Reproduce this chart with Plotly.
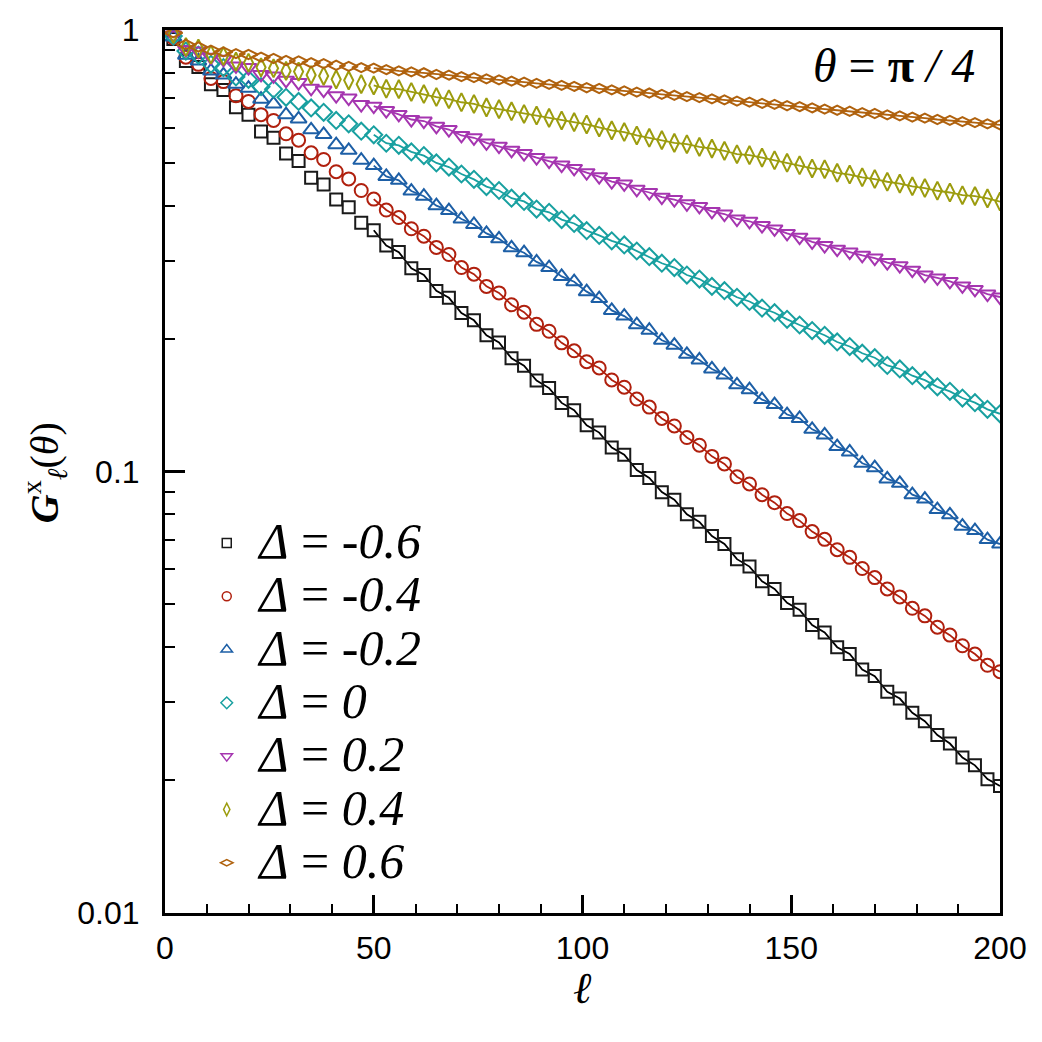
import plotly.graph_objects as go

# x positions (ell) of the data points
ell = list(range(2, 201, 3))

# G values, one list per Delta
g_m06 = [0.954, 0.851, 0.825, 0.754, 0.731, 0.668, 0.643, 0.589, 0.570, 0.525, 0.505, 0.463, 0.447, 0.413, 0.397, 0.366,
         0.352, 0.325, 0.314, 0.2885, 0.2786, 0.2565, 0.2474, 0.2286, 0.2200, 0.2035, 0.1960, 0.1804, 0.1736, 0.1607,
         0.1545, 0.1430, 0.1377, 0.1272, 0.1225, 0.1133, 0.1091, 0.1008, 0.0967, 0.0898, 0.0863, 0.0800, 0.0769, 0.0714,
         0.0685, 0.0633, 0.0609, 0.0564, 0.0542, 0.0504, 0.0486, 0.0449, 0.0432, 0.0400, 0.0386, 0.0356, 0.0344, 0.0317,
         0.0306, 0.0284, 0.0272, 0.0253, 0.0242, 0.0225, 0.0216, 0.0201, 0.0194]
g_m04 = [0.959, 0.868, 0.836, 0.777, 0.764, 0.710, 0.689, 0.643, 0.624, 0.582, 0.563, 0.527, 0.509, 0.4775, 0.460, 0.433,
         0.414, 0.391, 0.376, 0.3547, 0.3412, 0.3218, 0.3101, 0.2897, 0.2799, 0.2626, 0.2538, 0.2386, 0.2296, 0.2154,
         0.2078, 0.1956, 0.1877, 0.1773, 0.1716, 0.1612, 0.1552, 0.1459, 0.1399, 0.1319, 0.1268, 0.1194, 0.1147, 0.1082,
         0.1040, 0.0973, 0.0937, 0.0886, 0.0850, 0.0803, 0.0774, 0.0731, 0.0702, 0.0665, 0.0639, 0.0603, 0.0575, 0.0542,
         0.0520, 0.0490, 0.0471, 0.0444, 0.0426, 0.0403, 0.0386, 0.0364, 0.0352]
g_m02 = [0.9645, 0.877, 0.851, 0.808, 0.791, 0.754, 0.738, 0.697, 0.680, 0.643, 0.629, 0.594, 0.580, 0.550, 0.534, 0.507,
         0.493, 0.466, 0.4565, 0.4318, 0.4203, 0.4001, 0.3899, 0.3732, 0.3626, 0.3461, 0.3365, 0.3211, 0.3130, 0.2983,
         0.2897, 0.2766, 0.2691, 0.2555, 0.2464, 0.2317, 0.2249, 0.2151, 0.2089, 0.1983, 0.1933, 0.1842, 0.1789, 0.1707,
         0.1655, 0.1572, 0.1532, 0.1455, 0.1418, 0.1346, 0.1319, 0.1246, 0.1210, 0.1139, 0.1107, 0.1044, 0.1020, 0.0962,
         0.0940, 0.0886, 0.0866, 0.0820, 0.0798, 0.0752, 0.0735, 0.0701, 0.0685]
g_0 = [0.969, 0.896, 0.877, 0.836, 0.822, 0.783, 0.773, 0.744, 0.7345, 0.704, 0.689, 0.666, 0.651, 0.624, 0.613, 0.590,
       0.579, 0.554, 0.548, 0.5295, 0.5194, 0.4998, 0.4893, 0.4719, 0.4589, 0.4419, 0.4330, 0.4160, 0.4090, 0.3930,
       0.3864, 0.3721, 0.3645, 0.3512, 0.3425, 0.3330, 0.3260, 0.3158, 0.3066, 0.2963, 0.2897, 0.2786, 0.2728, 0.2626,
       0.2568, 0.2481, 0.2427, 0.2344, 0.2289, 0.2211, 0.2147, 0.2086, 0.2035, 0.1965, 0.1919, 0.1853, 0.1810, 0.1739,
       0.1707, 0.1648, 0.1610, 0.1555, 0.1519, 0.1467, 0.1432, 0.1383, 0.1351]
g_p02 = [0.974, 0.903, 0.896, 0.868, 0.858, 0.829, 0.822, 0.793, 0.787, 0.769, 0.760, 0.738, 0.731, 0.710, 0.701, 0.678,
         0.672, 0.657, 0.644, 0.627, 0.622, 0.605, 0.595, 0.577, 0.570, 0.555, 0.5455, 0.534, 0.525, 0.514,
         0.505, 0.4943, 0.4858, 0.4751, 0.4654, 0.4535, 0.4482, 0.4358, 0.4285, 0.4181, 0.413, 0.4041, 0.3985, 0.3883,
         0.3830, 0.3732, 0.3688, 0.3607, 0.3544, 0.3461, 0.3395, 0.3311, 0.3250, 0.3189, 0.314, 0.3087, 0.3044, 0.2973,
         0.2925, 0.2857, 0.2786, 0.2745, 0.2694, 0.2632, 0.2584, 0.2523, 0.2484]
g_p04 = [0.980, 0.915, 0.908, 0.880, 0.873, 0.848, 0.843, 0.823, 0.819, 0.808, 0.805, 0.791, 0.787, 0.773, 0.769, 0.754,
         0.749, 0.736, 0.7345, 0.724, 0.716, 0.705, 0.697, 0.686, 0.680, 0.668, 0.662, 0.6545, 0.6455, 0.640,
         0.6323, 0.624, 0.6184, 0.611, 0.6017, 0.5925, 0.5873, 0.577, 0.570, 0.563, 0.555, 0.5512, 0.5435, 0.5387,
         0.5324, 0.5232, 0.5206, 0.514, 0.507, 0.5003, 0.4939, 0.4858, 0.4838, 0.4748, 0.4705, 0.4639, 0.4597, 0.4532,
         0.4489, 0.4426, 0.4386, 0.4324, 0.4285, 0.4225, 0.4205, 0.4155, 0.4087]
g_p06 = [0.985, 0.927, 0.915, 0.900, 0.892, 0.884, 0.880, 0.868, 0.862, 0.853, 0.851, 0.843, 0.839, 0.832, 0.827, 0.822,
         0.820, 0.813, 0.808, 0.804, 0.800, 0.793, 0.790, 0.784, 0.780, 0.775, 0.771, 0.766, 0.762, 0.757,
         0.753, 0.749, 0.745, 0.740, 0.737, 0.732, 0.728, 0.7235, 0.7198, 0.7149, 0.7114, 0.7066, 0.7029, 0.6982,
         0.6948, 0.690, 0.6864, 0.6818, 0.6783, 0.6737, 0.6703, 0.666, 0.662, 0.658, 0.6545, 0.650, 0.6469, 0.6425,
         0.6392, 0.6348, 0.6316, 0.627, 0.6242, 0.620, 0.6168, 0.6127, 0.6096]

labels = ["-0.6", "-0.4", "-0.2", "0", "0.2", "0.4", "0.6"]
series = [g_m06, g_m04, g_m02, g_0, g_p02, g_p04, g_p06]
colors = ["#1a1a1a", "#b0200e", "#1d5fa6", "#18a0a0", "#a535b0", "#9c9c0e", "#b0620e"]
line_colors = ["#000000", "#b0200e", "#1d5fa6", "#18a0a0", "#a535b0", "#9c9c0e", "#b0620e"]
symbols = ["square-open", "circle-open", "triangle-up-open", "diamond-open",
           "triangle-down-open", "diamond-tall-open", "diamond-wide-open"]
sizes = [12, 13, 14, 13, 14, 13, 13]
legend_sizes = [9, 9, 10, 9, 10, 9, 9]
fit_start = 50  # lines are drawn from ell = 50 on

fig = go.Figure()
for lab, ys, c, lc, sym, sz in zip(labels, series, colors, line_colors, symbols, sizes):
    xl = [x for x in ell if x >= fit_start]
    yl = [y for x, y in zip(ell, ys) if x >= fit_start]
    fig.add_trace(go.Scatter(x=xl, y=yl, mode="lines", line=dict(color=lc, width=1.8),
                             showlegend=False, hoverinfo="skip"))
    fig.add_trace(go.Scatter(x=ell, y=ys, mode="markers",
                             marker=dict(symbol=sym, size=sz, color=c, line=dict(width=2, color=c)),
                             showlegend=False))
# legend entries (small markers as in the original)
for lab, c, sym, ls in zip(labels, colors, symbols, legend_sizes):
    fig.add_trace(go.Scatter(x=[None], y=[None], mode="markers",
                             marker=dict(symbol=sym, size=ls, color=c, line=dict(width=1.5, color=c)),
                             name='<span style="font-size:50px">\u00a0<i>Δ</i> = <i>' + lab + '</i></span>'))

tick_font = dict(family="Liberation Sans, Arial, sans-serif", size=32, color="black")
fig.update_xaxes(range=[0, 200], tickvals=[0, 50, 100, 150, 200], ticks="inside", ticklen=18, tickwidth=3,
                 tickcolor="black", showline=True, linewidth=3, linecolor="black", mirror=True,
                 showgrid=False, zeroline=False, tickfont=tick_font, ticklabelstandoff=5,
                 minor=dict(ticks="inside", ticklen=9, tickwidth=2, tickcolor="black", tick0=0, dtick=10,
                            showgrid=False))
fig.update_yaxes(type="log", range=[-2, 0], tickvals=[0.01, 0.1, 1], ticktext=["0.01", "0.1", "1"],
                 ticks="inside", ticklen=20, tickwidth=3, tickcolor="black", showline=True, linewidth=3,
                 linecolor="black", mirror=True, showgrid=False, zeroline=False, tickfont=tick_font,
                 ticklabelstandoff=16,
                 minor=dict(tickmode="array",
                            tickvals=[0.02, 0.03, 0.04, 0.05, 0.06, 0.07, 0.08, 0.09,
                                      0.2, 0.3, 0.4, 0.5, 0.6, 0.7, 0.8, 0.9],
                            ticks="inside", ticklen=10, tickwidth=2, tickcolor="black", showgrid=False))

serif = "Liberation Serif, Times New Roman, serif"
fig.update_layout(
    width=1042, height=1042,
    margin=dict(l=165, r=42, t=21, b=129),
    plot_bgcolor="white", paper_bgcolor="white",
    legend=dict(x=0.05, y=0.455, xanchor="left", yanchor="top", bgcolor="rgba(0,0,0,0)",
                font=dict(family=serif, size=38.7, color="black"), itemwidth=30, tracegroupgap=0),
    annotations=[
        dict(text="<i><b>G</b></i><sup>x</sup><sub><i>ℓ</i></sub>(<i>θ</i>)", xref="paper", yref="paper",
             x=-0.144, y=0.499, textangle=-90, showarrow=False, xanchor="center", yanchor="middle",
             font=dict(family=serif, size=40, color="black")),
        dict(text="<i>ℓ</i>", xref="paper", yref="paper", x=0.5, y=-0.086, showarrow=False,
             xanchor="center", yanchor="middle", font=dict(family=serif, size=44, color="black")),
        dict(text="<i>θ</i> = <b>π</b> <i>/ 4</i>", xref="paper", yref="paper", x=0.972, y=0.96,
             showarrow=False, xanchor="right", yanchor="middle",
             font=dict(family=serif, size=48, color="black")),
    ],
)
fig.write_html("out.html")
